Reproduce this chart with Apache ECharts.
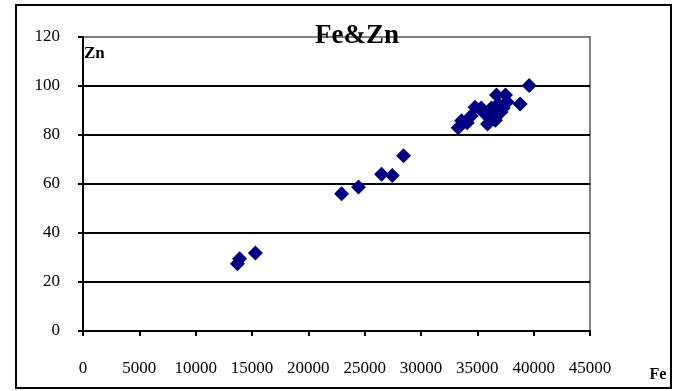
<!DOCTYPE html>
<html><head><meta charset="utf-8">
<script src="https://cdn.jsdelivr.net/npm/echarts@6/dist/echarts.min.js"></script>
<style>html,body{margin:0;padding:0;background:#fff}#c{width:675px;height:391px}</style>
</head><body><div id="c"></div>
<script>
const title = "Fe&Zn";
const xName = "Fe";
const yName = "Zn";
const feValues = [13700, 13900, 15300, 22950, 24450, 26500, 27450, 28450,
  33300, 33600, 34100, 34450, 34800, 35350, 35600, 35900, 36050, 36250, 36500,
  36600, 36700, 36850, 37100, 37300, 37500, 37650, 38800, 39600];
const znValues = [27.5, 29.5, 31.8, 56, 58.8, 64, 63.5, 71.5,
  83, 85.8, 85, 87.8, 91.3, 91, 89, 84.5, 87.8, 91, 89.4,
  86, 96.3, 92.7, 89.4, 91, 96.3, 93.5, 92.7, 100.2];
const xTicks = [0, 5000, 10000, 15000, 20000, 25000, 30000, 35000, 40000, 45000];
const yTicks = [0, 20, 40, 60, 80, 100, 120];

const points = feValues.map((v, i) => [v, znValues[i]]);
const serif = "'Liberation Serif','Times New Roman',serif";
const chart = echarts.init(document.getElementById('c'), null, {renderer: 'canvas'});
const splitColors = yTicks.map((t, i) => i === yTicks.length - 1 ? '#808080' : '#000');
chart.setOption({
  animation: false,
  backgroundColor: '#fff',
  grid: {left: 83, top: 37, right: 85, bottom: 60, show: true, borderColor: '#808080', borderWidth: 2, backgroundColor: 'transparent'},
  xAxis: {
    type: 'value', min: xTicks[0], max: xTicks[xTicks.length - 1], interval: 5000,
    axisLine: {show: true, onZero: false, lineStyle: {color: '#000', width: 2}},
    axisTick: {show: true, inside: false, length: 5, lineStyle: {color: '#000', width: 2}},
    axisLabel: {margin: 29, color: '#000', fontFamily: serif, fontSize: 17, formatter: v => String(v)},
    splitLine: {show: false}
  },
  yAxis: {
    type: 'value', min: yTicks[0], max: yTicks[yTicks.length - 1], interval: 20,
    axisLine: {show: true, onZero: false, lineStyle: {color: '#000', width: 2}},
    axisTick: {show: true, inside: false, length: 5, lineStyle: {color: '#000', width: 2}},
    axisLabel: {margin: 23, color: '#000', fontFamily: serif, fontSize: 17, formatter: v => String(v)},
    splitLine: {show: true, lineStyle: {color: splitColors, width: 2}}
  },
  series: [{
    type: 'scatter', data: points, symbol: 'diamond', symbolSize: 15,
    itemStyle: {color: '#000080', opacity: 1}
  }],
  graphic: [
    {type: 'rect', silent: true, z: 100, shape: {x: 16, y: 5, width: 655, height: 383}, style: {fill: 'none', stroke: '#000', lineWidth: 2}},
    {type: 'text', z: 100, x: 357, y: 36, style: {text: title, fill: '#000', font: "bold 27px " + serif, textAlign: 'center', textVerticalAlign: 'middle'}},
    {type: 'text', z: 100, x: 84, y: 54, style: {text: yName, fill: '#000', font: "bold 17px " + serif, textAlign: 'left', textVerticalAlign: 'middle'}},
    {type: 'text', z: 100, x: 658, y: 375, style: {text: xName, fill: '#000', font: "bold 16px " + serif, textAlign: 'center', textVerticalAlign: 'middle'}}
  ]
});
</script></body></html>
